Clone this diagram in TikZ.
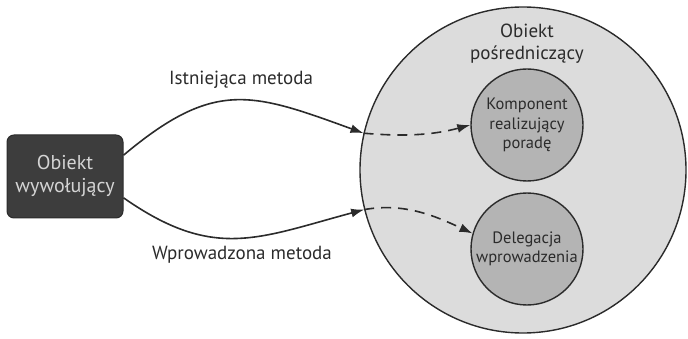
\documentclass[tikz,border=0pt]{standalone}
\usepackage{fontspec}
\setmainfont{PT Sans}
\usetikzlibrary{arrows.meta, positioning, calc}
\definecolor{callerFill}{HTML}{3D3D3D}
\definecolor{callerText}{HTML}{D4D4D4}
\definecolor{proxyFill}{HTML}{DCDCDC}
\definecolor{partFill}{HTML}{B4B4B4}
\definecolor{lineDark}{HTML}{2B2B2B}

\begin{document}
\begin{tikzpicture}[x=1pt, y=-1pt,
    callerbox/.style={rectangle, rounded corners=7pt, fill=callerFill, draw=lineDark,
                      line width=1pt, minimum width=116pt, minimum height=83pt,
                      align=center, font=\fontsize{20}{23}\selectfont, text=callerText},
    proxycircle/.style={circle, fill=proxyFill, draw=lineDark, line width=1.4pt,
                        minimum size=326pt, inner sep=0pt},
    partcircle/.style={circle, fill=partFill, draw=lineDark, line width=1.4pt,
                       minimum size=112pt, inner sep=0pt, align=center,
                       font=\fontsize{16.5}{19.5}\selectfont, text=lineDark},
    methodlabel/.style={font=\fontsize{19}{22}\selectfont, text=lineDark, align=center},
    callarrow/.style={-{Latex[length=13pt, width=9pt]}, line width=1.6pt, lineDark},
    passarrow/.style={callarrow, dash pattern=on 10pt off 7pt},
  ]
    \useasboundingbox (0,0) rectangle (688,339);

    \node[callerbox]   (caller) at (65,176.5) {Obiekt\\wywołujący};
    \node[proxycircle] (proxy)  at (523,170) {};
    \node[methodlabel] (title)  at (527,44) {Obiekt\\pośredniczący};
    \node[partcircle]  (advice) at (527,125) {Komponent\\realizujący\\poradę};
    \node[partcircle]  (intro)  at (527,249) {Delegacja\\wprowadzenia};

    \node[methodlabel] (existing) at (241,80)  {Istniejąca metoda};
    \node[methodlabel] (added)    at (242,255) {Wprowadzona metoda};

    % wywolania z obiektu do posrednika
    \draw[callarrow] (caller.20) to[out=40, in=160, looseness=1.26] (proxy.167);
    \draw[callarrow] (caller.-20) to[out=-35, in=195, looseness=1.17] (proxy.194);

    % przekazanie wewnatrz posrednika
    \draw[passarrow] (proxy.167) to[out=-5, in=195, looseness=0.95] (advice.west);
    \draw[passarrow] (proxy.194) to[out=10, in=155, looseness=0.95] (intro.164);
  \end{tikzpicture}
\end{document}
